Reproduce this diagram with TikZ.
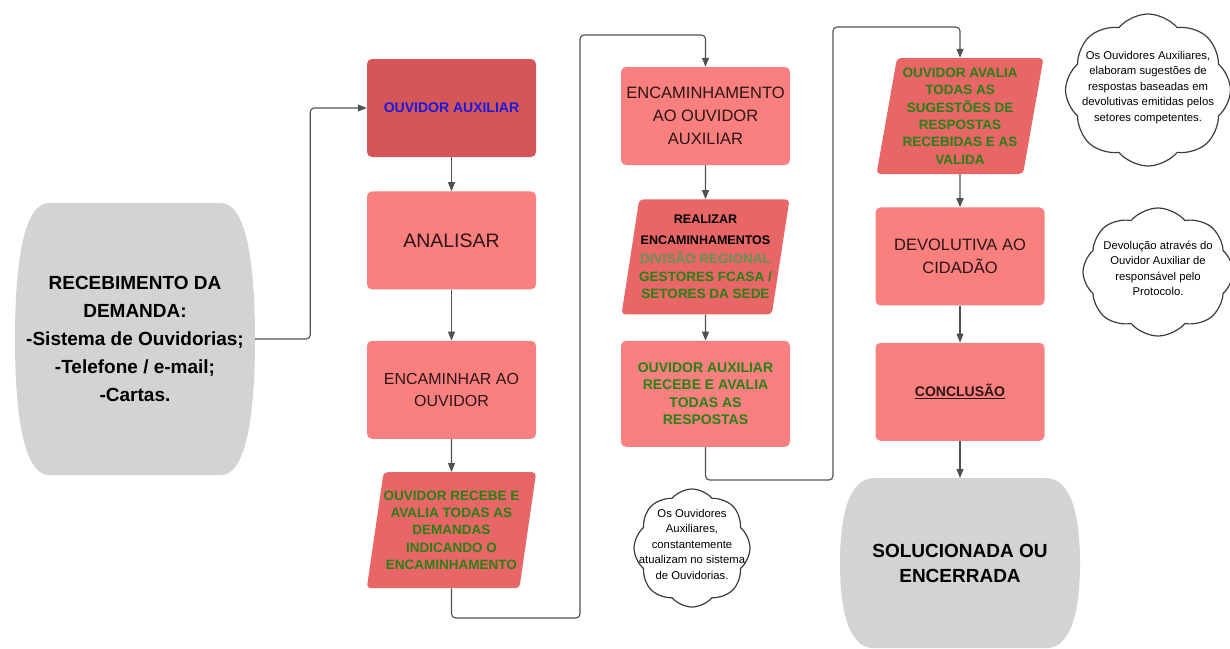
\documentclass[tikz,border=0pt]{standalone}
\usepackage{fontspec}
\setmainfont{Liberation Sans}
\usetikzlibrary{positioning,shapes,calc,arrows.meta}
\definecolor{boxred}{RGB}{250,128,128}
\definecolor{headred}{RGB}{213,86,86}
\definecolor{slantred}{RGB}{232,102,102}
\definecolor{barrelgray}{RGB}{211,211,213}
\definecolor{textgreen}{RGB}{40,128,22}
\definecolor{litegreen}{RGB}{96,150,80}
\definecolor{textblue}{RGB}{25,25,225}
\definecolor{textdark}{RGB}{45,20,20}
\definecolor{conngray}{RGB}{80,80,80}
\definecolor{notegray}{RGB}{60,60,60}
\tikzstyle{StepNode}=[rectangle, fill=boxred, rounded corners=5pt, minimum width=169pt, minimum height=98pt, align=center, text=textdark, font=\fontsize{16.5}{23}\selectfont]
\tikzstyle{HeadNode}=[StepNode, fill=headred]
\tikzstyle{SlantNode}=[trapezium, trapezium left angle=78, trapezium right angle=102, trapezium stretches body, fill=slantred, rounded corners=4pt, minimum width=167pt, minimum height=116pt, inner sep=0pt, align=center, text=textgreen, font=\bfseries\fontsize{13.5}{17.4}\selectfont]
\tikzstyle{BarrelNode}=[rectangle, minimum width=240pt, align=center, text=black, font=\bfseries\fontsize{19}{28}\selectfont,
  path picture={
    \path (path picture bounding box.north west) coordinate (nw)
          (path picture bounding box.north east) coordinate (ne)
          (path picture bounding box.south west) coordinate (sw)
          (path picture bounding box.south east) coordinate (se)
          (path picture bounding box.west) coordinate (w)
          (path picture bounding box.east) coordinate (e);
    \fill[barrelgray] ([xshift=34pt]nw) -- ([xshift=-34pt]ne)
      .. controls ([xshift=-10pt]ne) and ($(ne)!0.4!(e)$) .. (e)
      .. controls ($(se)!0.4!(e)$) and ([xshift=-10pt]se) .. ([xshift=-34pt]se)
      -- ([xshift=34pt]sw)
      .. controls ([xshift=10pt]sw) and ($(sw)!0.4!(w)$) .. (w)
      .. controls ($(nw)!0.4!(w)$) and ([xshift=10pt]nw) .. ([xshift=34pt]nw) -- cycle;
  }]
\tikzstyle{NoteNode}=[cloud, cloud puffs=8, cloud puff arc=100, cloud ignores aspect, draw=notegray, line width=1.2pt, fill=white, inner sep=0pt, font=\fontsize{11.3}{15.5}\selectfont]
\tikzstyle{Conn}=[draw=conngray, line width=1.1pt, rounded corners=4pt, -{Triangle[length=9pt,width=7pt]}]
\newcommand{\NoteText}[1]{\smash{\makebox[0pt]{\begin{tabular}{@{}c@{}}#1\end{tabular}}}}

\begin{document}
\begin{tikzpicture}[x=1pt, y=-1pt]
    \useasboundingbox (0,0) rectangle (1230,648);

    \node (recv) [BarrelNode, minimum height=272pt] at (135,339) {RECEBIMENTO DA\\DEMANDA:\\-Sistema de Ouvidorias;\\-Telefone / e-mail;\\-Cartas.};

    % first column
    \node (aux) [HeadNode] at (451.5,108) {\bfseries\fontsize{14}{17}\selectfont\textcolor{textblue}{OUVIDOR AUXILIAR}};
    \node (analisar) [StepNode, below=34pt of aux, font=\fontsize{19.5}{24}\selectfont] {ANALISAR};
    \node (encaminhar) [StepNode, below=51pt of analisar, font=\fontsize{16}{22}\selectfont] {ENCAMINHAR AO\\OUVIDOR};
    \node (recebe) [SlantNode, below=33pt of encaminhar] {OUVIDOR RECEBE E\\AVALIA TODAS AS\\DEMANDAS\\INDICANDO O\\ENCAMINHAMENTO};

    % second column
    \node (encam) [StepNode] at (705.5,116) {ENCAMINHAMENTO\\AO OUVIDOR\\AUXILIAR};
    \node (realizar) [SlantNode, below=34pt of encam, minimum height=115pt] {
      \textcolor{black}{\fontsize{12.5}{20}\selectfont REALIZAR}\\[3pt]
      \textcolor{black}{\fontsize{12.5}{20}\selectfont ENCAMINHAMENTOS}\\[2pt]
      \textcolor{litegreen}{DIVISÃO REGIONAL}\\
      GESTORES FCASA /\\
      SETORES DA SEDE
    };
    \node (respostas) [StepNode, below=26pt of realizar, minimum height=106pt, text=textgreen, font=\bfseries\fontsize{14}{17.4}\selectfont] {OUVIDOR AUXILIAR\\RECEBE E AVALIA\\TODAS AS\\RESPOSTAS};

    % third column
    \node (avalia) [SlantNode] at (960,116) {OUVIDOR AVALIA\\TODAS AS\\SUGESTÕES DE\\RESPOSTAS\\RECEBIDAS E AS\\VALIDA};
    \node (devolutiva) [StepNode, below=33pt of avalia] {DEVOLUTIVA AO\\CIDADÃO};
    \node (conclusao) [StepNode, below=37pt of devolutiva, font=\bfseries\fontsize{14}{17}\selectfont] {\underline{CONCLUSÃO}};
    \node (fim) [BarrelNode, below=37pt of conclusao, minimum height=170pt, font=\bfseries\fontsize{19}{24.5}\selectfont] {SOLUCIONADA OU\\ENCERRADA};

    % notes
    \node (note1) [NoteNode, minimum width=165pt, minimum height=152pt] at (1148,90) {\NoteText{Os Ouvidores Auxiliares,\\elaboram sugestões de\\respostas baseadas em\\devolutivas emitidas pelos\\setores competentes.}};
    \node (note2) [NoteNode, minimum width=150pt, minimum height=128pt] at (1158,272) {\NoteText{Devolução através do\\Ouvidor Auxiliar de\\responsável pelo\\Protocolo.}};
    \node (note3) [NoteNode, minimum width=116pt, minimum height=118pt] at (692,548) {\NoteText{Os Ouvidores\\Auxiliares,\\constantemente\\atualizam no sistema\\de Ouvidorias.}};

    \coordinate (low1) at (580,618);
    \coordinate (high1) at (580,35);
    \coordinate (low2) at (833,480);
    \coordinate (high2) at (833,27);

    \draw [Conn] (recv.east) -- ++(55,0) |- (aux.west);
    \draw [Conn] (aux) -- (analisar);
    \draw [Conn] (analisar) -- (encaminhar);
    \draw [Conn] (encaminhar) -- (recebe);
    \draw [Conn] (recebe.south) |- (low1) -- (high1) -| (encam.north);
    \draw [Conn] (encam) -- (realizar);
    \draw [Conn] (realizar) -- (respostas);
    \draw [Conn] (respostas.south) |- (low2) -- (high2) -| (avalia.north);
    \draw [Conn] (avalia) -- (devolutiva);
    \draw [Conn] (devolutiva) -- (conclusao);
    \draw [Conn] (conclusao) -- (fim);
  \end{tikzpicture}
\end{document}
